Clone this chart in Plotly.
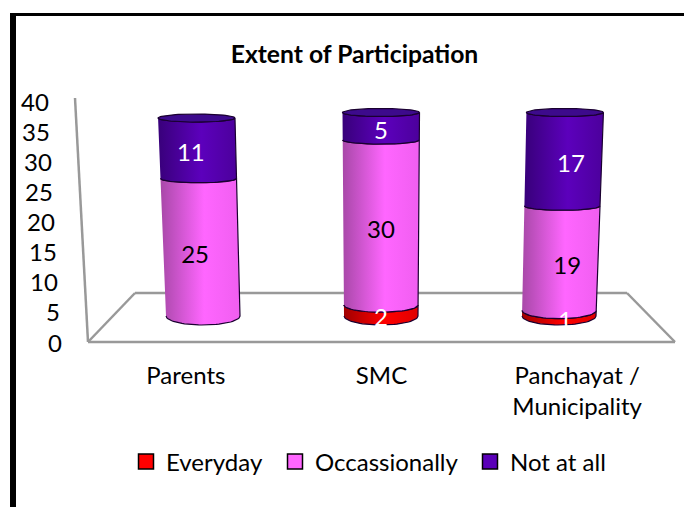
import numpy as np
import plotly.graph_objects as go

categories = ["Parents", "SMC", "Panchayat /<br>Municipality"]
series_names = ["Everyday", "Occassionally", "Not at all"]
everyday = [0, 2, 1]
occasionally = [25, 30, 19]
not_at_all = [11, 5, 17]
y_ticks = [0, 5, 10, 15, 20, 25, 30, 35, 40]
title_text = "Extent of Participation"

W, H = 684, 507
FONT = "Lato"
FS = 24
series = [everyday, occasionally, not_at_all]
base_colors = ["#ff0000", "#ff66ff", "#5a00b8"]
grad = [
    [[0, "#a00000"], [0.55, "#ff0000"], [1, "#e00000"]],
    [[0, "#a848a8"], [0.55, "#ff66ff"], [1, "#f05ef0"]],
    [[0, "#38007a"], [0.55, "#5c00bc"], [1, "#4c009c"]],
]
label_colors = ["white", "black", "white"]
label_drop = [1.7, 1.7, 1.2]
cap_color = "#3d0a8c"

# pixel layout
def px_x(v): return v / W
def px_y(v): return 1 - v / H
BAR_L, BAR_R = 114, 648     # bar x axis domain
CAT_L, CAT_R = 88, 675      # category label axis domain
BAR_UNIT = 5.5              # px per value on the cylinder scale
Y0_BAR = 316
BAR_MIN, BAR_MAX = -3, 40   # room below zero for the rounded bases
Y0_TICK, Y40_TICK = 342, 101
unit_x = (BAR_R - BAR_L) / 3
lean_px = [-0.18, 0.0, 0.16]
label_shift_px = [-5, 0, 6]

def half_w(v):
    return (37 + 1.5 * v / 37) / unit_x

def ry(v):
    return float(np.interp(v, [0, 5, 40], [9, 4.5, 4])) / BAR_UNIT

def cx(i, v):
    return i + lean_px[i] * v / unit_x

fig = go.Figure()
idx = list(range(len(categories)))

# true stacked values as bars
for s, vals in enumerate(series):
    fig.add_trace(go.Bar(x=idx, y=vals, name=series_names[s], width=0.36,
                         marker=dict(color=base_colors[s], line=dict(width=0)),
                         showlegend=False, xaxis="x", yaxis="y"))

# cylinder skins built from the stacked values
t = np.linspace(0, np.pi, 40)
for i in idx:
    b = 0
    for s, vals in enumerate(series):
        v = vals[i]
        if v == 0:
            continue
        top = b + v
        xs_low = cx(i, b) - half_w(b) * np.cos(t)
        ys_low = b - ry(b) * np.sin(t)
        xs_top = cx(i, top) + half_w(top) * np.cos(t)
        ys_top = top - ry(top) * np.sin(t)
        fig.add_trace(go.Scatter(
            x=np.r_[xs_low, xs_top], y=np.r_[ys_low, ys_top], mode="lines", cliponaxis=False,
            fill="toself", line=dict(color="#1a0030", width=1.2),
            fillgradient=dict(type="horizontal", colorscale=grad[s]),
            hoverinfo="skip", showlegend=False, xaxis="x", yaxis="y"))
        b = top
    tt = np.linspace(0, 2 * np.pi, 80)
    fig.add_trace(go.Scatter(
        x=cx(i, b) + half_w(b) * np.cos(tt), y=b + ry(b) * np.sin(tt), mode="lines", cliponaxis=False,
        fill="toself", fillcolor=cap_color, line=dict(color="#1a0030", width=1.2),
        hoverinfo="skip", showlegend=False, xaxis="x", yaxis="y"))

# data labels
for s, vals in enumerate(series):
    xs, ys, txt = [], [], []
    for i in idx:
        below = sum(series[k][i] for k in range(s))
        if vals[i] == 0:
            continue
        xs.append(i + (1.3 * lean_px[i] * (below + vals[i] / 2) + label_shift_px[i]) / unit_x)
        ys.append(below + vals[i] / 2 - label_drop[s])
        txt.append(str(vals[i]))
    fig.add_trace(go.Scatter(x=xs, y=ys, text=txt, mode="text", cliponaxis=False,
                             textfont=dict(family=FONT, size=FS, color=label_colors[s]),
                             hoverinfo="skip", showlegend=False, xaxis="x", yaxis="y"))

# carriers for the label axes
fig.add_trace(go.Scatter(x=categories, y=[None] * 3, xaxis="x2", yaxis="y2", showlegend=False, hoverinfo="skip"))

# legend entries
legs = ["legend", "legend2", "legend3"]
for s in range(3):
    fig.add_trace(go.Scatter(x=[None], y=[None], mode="markers", name=series_names[s], legend=legs[s],
                             marker=dict(symbol="square", size=15, color=base_colors[s], line=dict(color="black", width=1.5)),
                             xaxis="x", yaxis="y"))

gray = "#999999"
def line(x0, y0, x1, y1, col=gray, w=2.5):
    return dict(type="line", xref="paper", yref="paper", x0=px_x(x0), y0=px_y(y0), x1=px_x(x1), y1=px_y(y1),
                line=dict(color=col, width=w), layer="below")

shapes = [
    line(75, 98, 88, 342),
    line(88, 342, 675, 342),
    line(88, 342, 135, 293),
    line(135, 293, 627, 293),
    line(627, 293, 675, 342),
    line(10, 14.5, 684, 14.5, "black", 3),
    line(13, 13, 13, 507, "black", 6),
]

# value labels follow the slanted back wall of the chart
tick_annotations = [
    dict(text=str(v), xref="paper", yref="y2", x=px_x(63.5 - 13 * v / 40), y=v, xanchor="right", yanchor="middle",
         showarrow=False, font=dict(family=FONT, size=FS, color="black"))
    for v in y_ticks
]

leg = lambda x: dict(x=px_x(x), y=px_y(462), xanchor="left", yanchor="middle", bgcolor="rgba(0,0,0,0)",
                     font=dict(family=FONT, size=FS, color="black"), itemsizing="trace", itemclick=False, itemdoubleclick=False)

fig.update_layout(
    width=W, height=H, margin=dict(l=0, r=0, t=0, b=0, autoexpand=False), paper_bgcolor="white", plot_bgcolor="rgba(0,0,0,0)",
    barmode="stack", shapes=shapes, annotations=tick_annotations,
    title=dict(text=title_text, x=354.5 / W, y=px_y(54), xanchor="center", yanchor="middle",
               font=dict(family=FONT, size=24.7, color="black", weight="bold")),
    xaxis=dict(domain=[px_x(BAR_L), px_x(BAR_R)], range=[-0.5, 2.5], visible=False, fixedrange=True),
    yaxis=dict(domain=[px_y(Y0_BAR - BAR_MIN * BAR_UNIT), px_y(Y0_BAR - BAR_MAX * BAR_UNIT)], range=[BAR_MIN, BAR_MAX],
               visible=False, fixedrange=True),
    xaxis2=dict(domain=[px_x(CAT_L), px_x(CAT_R)], type="category", range=[-0.5, 2.5], anchor="y2", showline=False, ticks="outside",
                ticklen=12, tickcolor="rgba(0,0,0,0)", showgrid=False, zeroline=False, fixedrange=True,
                tickfont=dict(family=FONT, size=FS, color="black")),
    yaxis2=dict(domain=[px_y(Y0_TICK), px_y(Y40_TICK)], range=[0, 40], anchor="free", position=px_x(65),
                tickvals=y_ticks, showticklabels=False, showgrid=False, zeroline=False, showline=False, fixedrange=True,
                ticks=""),
    legend=leg(126), legend2=leg(275), legend3=leg(470),
)
fig.write_html("out.html", config=dict(displayModeBar=False),
               post_script="document.body.style.margin='0';document.body.style.overflow='hidden';")
